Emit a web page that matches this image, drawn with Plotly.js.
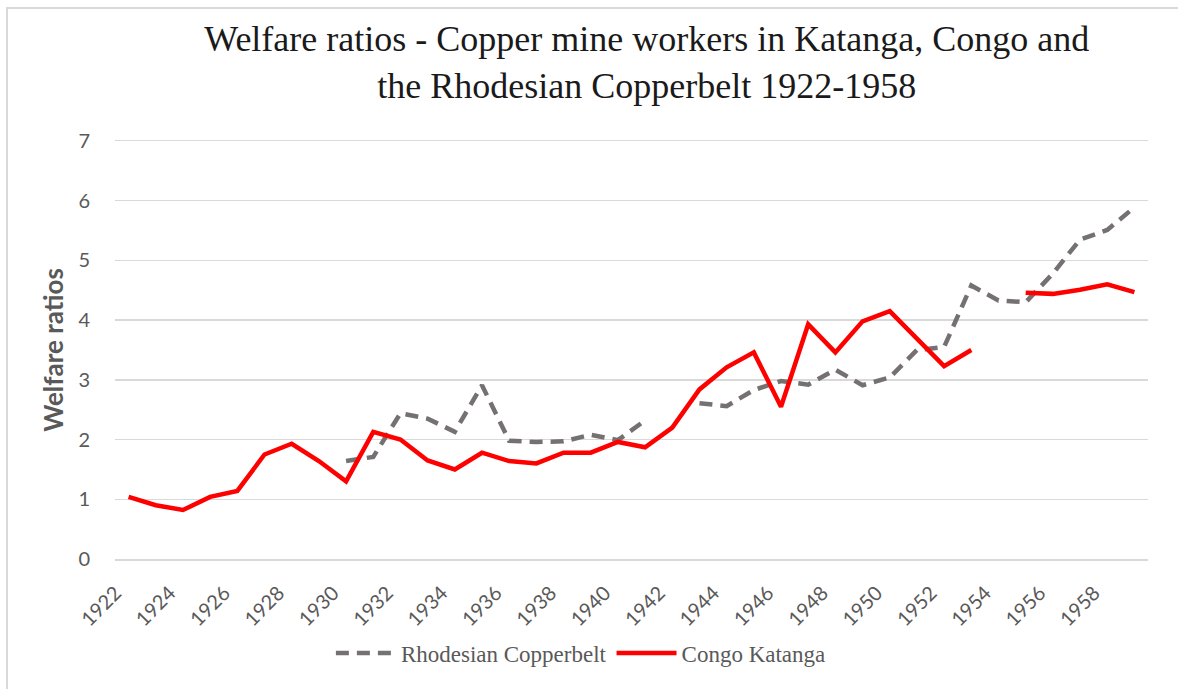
<!DOCTYPE html>
<html>
<head>
<meta charset="utf-8">
<script src="https://cdn.plot.ly/plotly-3.0.1.min.js"></script>
<style>
html,body{margin:0;padding:0;background:#fff;overflow:hidden;}
#frame{position:absolute;left:6px;top:7px;width:1300px;height:800px;border:2px solid #d9d9d9;box-sizing:border-box;}
#chart{position:absolute;left:0;top:0;width:1178px;height:689px;}
</style>
</head>
<body>
<div id="frame"></div>
<div id="chart"></div>
<script>
var years = [];
for (var y = 1922; y <= 1959; y++) years.push(String(y));
var tickLabels = ["1922","1924","1926","1928","1930","1932","1934","1936","1938","1940","1942","1944","1946","1948","1950","1952","1954","1956","1958"];

var rhodesian = [null,null,null,null,null,null,null,null,
  1.64,1.71,2.44,2.35,2.13,2.91,1.98,1.96,1.97,2.08,1.99,2.32,
  null,2.61,2.56,2.83,2.98,2.92,3.17,2.91,3.04,3.50,3.55,4.58,
  4.33,4.30,4.78,5.35,5.51,5.89];

var congo = [1.04,0.90,0.82,1.04,1.14,1.75,1.93,1.64,1.30,2.13,
  2.00,1.65,1.50,1.78,1.64,1.60,1.78,1.78,1.96,1.87,
  2.20,2.84,3.21,3.46,2.55,3.93,3.46,3.98,4.15,3.69,
  3.23,3.50,null,4.46,4.44,4.51,4.60,4.47];

var traces = [
  {x: years, y: rhodesian, type:'scatter', mode:'lines', name:'Rhodesian Copperbelt',
   connectgaps:false, line:{color:'#767171', width:4.5, dash:'13px,8px'}},
  {x: years, y: congo, type:'scatter', mode:'lines', name:'Congo Katanga',
   connectgaps:false, line:{color:'#ff0000', width:4.5}}
];

var layout = {
  width:1178, height:689,
  paper_bgcolor:'rgba(0,0,0,0)', plot_bgcolor:'rgba(0,0,0,0)',
  margin:{l:115, r:30, t:141, b:130},
  title:{text:'Welfare ratios - Copper mine workers in Katanga, Congo and<br>the Rhodesian Copperbelt 1922-1958',
    font:{family:'Liberation Serif, serif', size:36, color:'#1a1a1a'},
    xref:'container', x:0.549, xanchor:'center', yref:'container', y:0.926, yanchor:'top'},
  xaxis:{type:'category', range:[-0.5, 37.5], tickmode:'array', tickvals:tickLabels, ticktext:tickLabels,
    tickangle:-45, showgrid:false, zeroline:false,
    showline:true, linecolor:'#d9d9d9', linewidth:1.5, mirror:true,
    ticks:'outside', ticklen:13, tickcolor:'rgba(0,0,0,0)', ticklabelshift:-13,
    tickfont:{family:'Lato, sans-serif', size:20, color:'#595959'}, fixedrange:true},
  yaxis:{range:[0,7], dtick:1, tick0:0, showgrid:true, gridcolor:'#d9d9d9', gridwidth:1.5,
    zeroline:false, showline:false, ticks:'outside', ticklen:20, tickcolor:'rgba(0,0,0,0)',
    tickfont:{family:'Lato, sans-serif', size:20, color:'#595959'},
    title:{text:'<b>Welfare ratios</b>', font:{family:'Lato, sans-serif', size:26, color:'#595959'}, standoff:7}},
  legend:{orientation:'h', x:0.451, xanchor:'center', y:-0.225, yanchor:'middle',
    font:{family:'Liberation Serif, serif', size:23, color:'#595959'}, itemwidth:60, tracegroupgap:0},
  showlegend:true
};

Plotly.newPlot('chart', traces, layout, {displayModeBar:false, staticPlot:true});
</script>
</body>
</html>
